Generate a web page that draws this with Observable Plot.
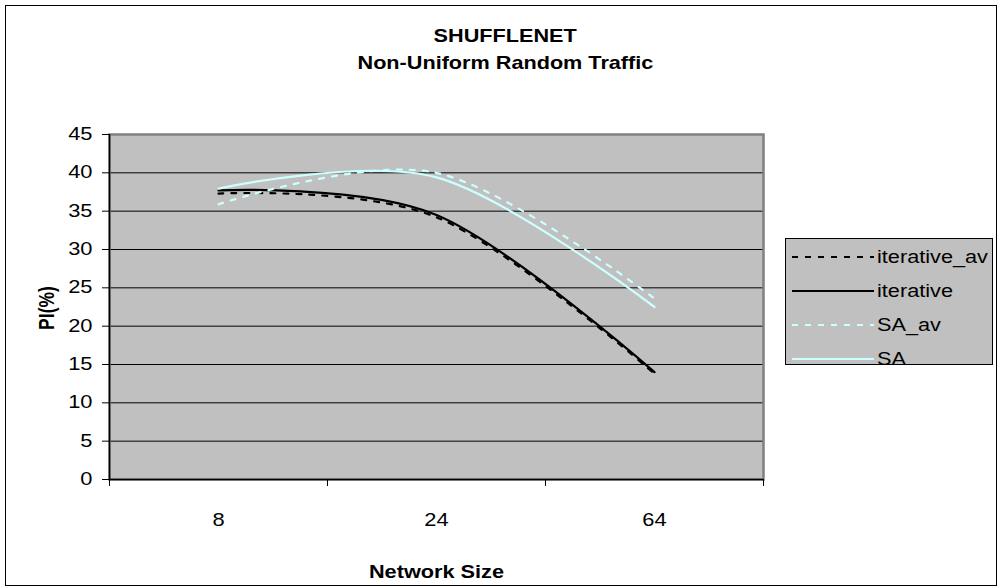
<!DOCTYPE html>
<html>
<head>
<meta charset="utf-8">
<script src="https://cdn.jsdelivr.net/npm/d3@7"></script>
<script src="https://cdn.jsdelivr.net/npm/@observablehq/plot@0.6"></script>
<style>
  html, body { margin: 0; padding: 0; background: #fff; }
  #wrap { position: relative; width: 1003px; height: 588px; font-family: "Liberation Sans", Arial, sans-serif; color: #000; overflow: hidden; }
  #border { position: absolute; left: 5px; top: 5px; width: 990px; height: 579px; border: 1.5px solid #000; }
  .t { position: absolute; white-space: nowrap; font-weight: bold; }
  .c { left: 0; text-align: center; }
  .c span { display: inline-block; transform-origin: 50% 50%; }
  #chart { position: absolute; left: 0; top: 0; }
  #legend { position: absolute; left: 785px; top: 238px; width: 206px; height: 125px; border: 1px solid #000; background: #C0C0C0; }
  .li { position: absolute; left: 0; height: 24px; width: 206px; }
  .li svg { position: absolute; left: 6px; top: 0; }
  .li span { position: absolute; left: 91px; top: 1px; font-size: 17.5px; line-height: 22px; transform: scaleX(1.24); transform-origin: 0 50%; }
</style>
</head>
<body>
<div id="wrap">
  <div id="border"></div>
  <div id="chart"></div>
  <div class="t c" style="width:1010px;top:25px;font-size:18.5px;line-height:22px;"><span style="transform:scaleX(1.17)">SHUFFLENET</span></div>
  <div class="t c" style="width:1010px;top:52px;font-size:18.5px;line-height:22px;"><span style="transform:scaleX(1.17)">Non-Uniform Random Traffic</span></div>
  <div class="t" style="left:46px;top:308px;font-size:17.5px;line-height:20px;transform:translate(-50%,-50%) scale(1.25,1) rotate(-90deg);">PI(%)</div>
  <div class="t c" style="width:872px;top:561px;font-size:17.5px;line-height:22px;"><span style="transform:scaleX(1.24)">Network Size</span></div>
  <div id="legend"></div>
</div>
<script>
// ---- data ----
const sizes = ["8", "24", "64"];
const seriesNames = ["iterative_av", "iterative", "SA_av", "SA"];
const iterative_av = [37.3, 34.2, 13.8];
const iterative = [37.7, 34.5, 14.0];
const SA_av = [35.9, 40.0, 23.6];
const SA = [37.95, 39.4, 22.5];
const yTicks = [0, 5, 10, 15, 20, 25, 30, 35, 40, 45];

const seriesValues = { iterative_av, iterative, SA_av, SA };
const styles = {
  iterative_av: { stroke: "#000000", dash: "5,8" },
  iterative: { stroke: "#000000", dash: null },
  SA_av: { stroke: "#CCFFFF", dash: "5,8" },
  SA: { stroke: "#CCFFFF", dash: null }
};

const rows = [];
for (const s of seriesNames) {
  seriesValues[s].forEach((v, i) => rows.push({ series: s, idx: i + 0.5, value: v }));
}

const boundaries = d3.range(sizes.length + 1);
const centers = sizes.map((d, i) => i + 0.5);

const lineMarks = seriesNames.map(s => Plot.line(rows.filter(r => r.series === s), {
  x: "idx", y: "value", curve: "cardinal",
  stroke: styles[s].stroke, strokeWidth: 2.2,
  strokeDasharray: styles[s].dash || undefined
}));

const plot = Plot.plot({
  width: 1003,
  height: 588,
  marginLeft: 109,
  marginRight: 240,
  marginTop: 134,
  marginBottom: 109,
  style: { fontFamily: "Liberation Sans, Arial, sans-serif", fontSize: "17.5px", color: "#000", background: "transparent" },
  x: { type: "linear", domain: [0, sizes.length] },
  y: { type: "linear", domain: [0, 45] },
  marks: [
    Plot.frame({ fill: "#C0C0C0", stroke: null }),
    Plot.ruleY(yTicks.filter(d => d > 0 && d < 45), { stroke: "#000", strokeWidth: 1 }),
    Plot.frame({ stroke: "#808080", strokeWidth: 2.5 }),
    ...lineMarks,
    Plot.ruleX([0], { stroke: "#000", strokeWidth: 1.5 }),
    Plot.ruleY([0], { stroke: "#000", strokeWidth: 1.5 }),
    Plot.axisY({ ticks: yTicks, tickSize: 7, tickPadding: 10, label: null, fontSize: 17.5 }),
    Plot.axisX({ ticks: boundaries, tickSize: 7, tickFormat: () => "", label: null }),
    Plot.axisX({ ticks: centers, tickSize: 0, tickPadding: 34, tickFormat: d => sizes[Math.floor(d)], label: null, fontSize: 17.5 })
  ]
});

// stretch tick labels horizontally (about their anchor) like the reference rendering
plot.querySelectorAll("text").forEach(el => {
  const t = el.getAttribute("transform") || "";
  const xs = el.getAttribute("x");
  const x = xs != null && /^-?[\d.]+$/.test(xs.trim()) ? +xs : 0;
  el.setAttribute("transform", `${t} translate(${x},0) scale(1.25,1) translate(${-x},0)`);
});
document.getElementById("chart").appendChild(plot);

// ---- legend ----
const legend = document.getElementById("legend");
const legendTops = [6, 40, 74, 108];
seriesNames.forEach((s, i) => {
  const div = document.createElement("div");
  div.className = "li";
  div.style.top = legendTops[i] + "px";
  const svg = d3.create("svg").attr("width", 84).attr("height", 24);
  svg.append("line").attr("x1", 0).attr("x2", 82).attr("y1", 12).attr("y2", 12)
    .attr("stroke", styles[s].stroke).attr("stroke-width", 2.2)
    .attr("stroke-dasharray", styles[s].dash ? "6,7" : null);
  div.appendChild(svg.node());
  const sp = document.createElement("span");
  sp.textContent = s;
  div.appendChild(sp);
  legend.appendChild(div);
});
</script>
</body>
</html>
